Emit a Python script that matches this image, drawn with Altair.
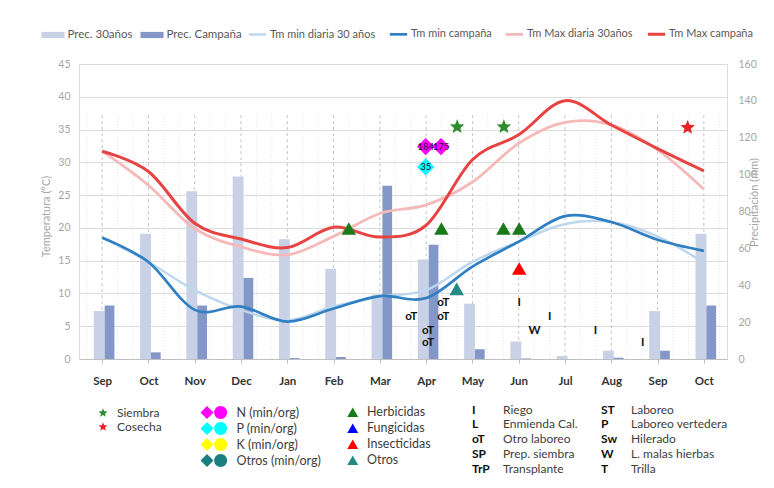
import json
import altair as alt
import pandas as pd

# ---------------- data ----------------
months = ["Sep", "Oct", "Nov", "Dec", "Jan", "Feb", "Mar", "Apr", "May", "Jun", "Jul", "Aug", "Sep", "Oct"]

prec_30 = [26, 68, 91, 99, 65, 49, 35, 54, 30, 9.5, 1.6, 4.5, 26, 68]
prec_camp = [29, 3.6, 29, 44, 0.5, 1.1, 94, 62, 5.3, 0.3, 0, 0.7, 4.5, 29]

tmin_30 = [18.6, 14.8, 10.5, 7.5, 5.9, 8.0, 9.5, 10.5, 14.8, 17.9, 20.6, 20.9, 18.7, 14.7]
tmin_camp = [18.5, 14.8, 7.5, 8.0, 5.7, 7.7, 9.6, 9.3, 14.1, 17.9, 21.8, 20.9, 18.2, 16.5]
tmax_30 = [31.7, 26.5, 19.9, 17.1, 15.9, 18.7, 22.2, 23.5, 27.0, 32.9, 36.1, 35.7, 31.9, 25.9]
tmax_camp = [31.7, 28.6, 20.7, 18.3, 17.0, 20.1, 18.6, 20.4, 30.4, 34.2, 39.4, 35.7, 32.1, 28.7]

bar_series = ["Prec. 30años", "Prec. Campaña"]
line_series = ["Tm min diaria 30 años", "Tm min campaña", "Tm Max diaria 30años", "Tm Max campaña"]

# events (x in month units from first Sep)
star_types = ["Siembra", "Cosecha"]
star_x = [7.67, 8.68, 12.65]
star_t = [35.4, 35.4, 35.3]
star_k = ["Siembra", "Siembra", "Cosecha"]

nut_types = ["N (min/org)", "P (min/org)", "K (min/org)", "Otros (min/org)"]
nut_x = [6.99, 7.32, 6.99]
nut_t = [32.4, 32.4, 29.3]
nut_k = ["N (min/org)", "N (min/org)", "P (min/org)"]
nut_lab = ["184", "175", "35"]

tri_types = ["Herbicidas", "Fungicidas", "Insecticidas", "Otros"]
tri_x = [5.33, 7.33, 8.67, 9.01, 9.01, 7.66]
tri_t = [19.9, 19.9, 19.9, 19.9, 13.8, 10.7]
tri_k = ["Herbicidas", "Herbicidas", "Herbicidas", "Herbicidas", "Insecticidas", "Otros"]

code_lab = ["oT", "oT", "oT", "oT", "oT", "I", "I", "W", "I", "I"]
code_x = [6.68, 7.37, 7.37, 7.04, 7.04, 9.01, 9.67, 9.34, 10.66, 11.68]
code_t = [6.35, 8.5, 6.35, 4.3, 2.4, 8.5, 6.35, 4.3, 4.3, 2.4]

codes1 = ["I", "L", "oT", "SP", "TrP"]
desc1 = ["Riego", "Enmienda Cal.", "Otro laboreo", "Prep. siembra", "Transplante"]
codes2 = ["ST", "P", "Sw", "W", "T"]
desc2 = ["Laboreo", "Laboreo vertedera", "Hilerado", "L. malas hierbas", "Trilla"]

# ---------------- styling ----------------
FONT = "Lato"
AX = "#a6a6a6"
TXT = "#404040"
STAR = ("M0,-1L0.26,-0.36L0.95,-0.31L0.42,0.14L0.59,0.81L0,0.44L-0.59,0.81"
        "L-0.42,0.14L-0.95,-0.31L-0.26,-0.36Z")
PAIR = "M-1,0L0,-1L1,0L0,1Z M3.1,0A1,1,0,1,1,1.1,0A1,1,0,1,1,3.1,0Z"
RECT = "M-1,-0.27H1V0.27H-1Z"

n = len(months)
idx = list(range(n))

xscale = alt.Scale(domain=[-0.5, n - 0.5], nice=False, zero=False)
tscale = alt.Scale(domain=[0, 45], nice=False, zero=False)
pscale = alt.Scale(domain=[0, 160], nice=False, zero=False)

xaxis = alt.Axis(values=idx, labelExpr=f"{json.dumps(months)}[datum.value]", title=None,
                 grid=False, domain=True, domainColor="#bfbfbf", ticks=True, tickColor="#bfbfbf",
                 tickSize=4, labelFont=FONT, labelFontWeight="bold", labelFontSize=11.5,
                 labelColor="#333333", labelPadding=12)

taxis = alt.Axis(orient="left", values=list(range(0, 46, 5)), grid=True, gridColor="#dcdcdc",
                 domain=False, ticks=False, labelColor=AX, labelFont=FONT, labelFontSize=10.5,
                 labelPadding=9, title="Temperatura (°C)", titleColor=AX, titleFont=FONT,
                 titleFontWeight="normal", titleFontSize=11, titleX=-28, titleY=152, titleAngle=270)

paxis = alt.Axis(orient="right", values=list(range(0, 161, 20)), grid=False, domain=False,
                 ticks=False, labelColor=AX, labelFont=FONT, labelFontSize=10.5, labelPadding=11,
                 title="Precipitación (mm)", titleColor=AX, titleFont=FONT, titleFontWeight="normal",
                 titleFontSize=11, titleX=32, titleY=138, titleAngle=270)


def leg(x, y, **kw):
    base = dict(orient="none", legendX=x, legendY=y, title=None, padding=0, labelFont=FONT,
                labelFontSize=12, labelColor=TXT, labelLimit=300)
    base.update(kw)
    return alt.Legend(**base)


# ---------------- grid rules ----------------
major_df = pd.DataFrame({"x": idx})
minor_df = pd.DataFrame({"x": [i + d for i in [-1] + idx for d in (1 / 3, 2 / 3)
                               if -0.5 < i + d < n - 0.5]})

major = alt.Chart(major_df).mark_rule(color="#c4c4c4", strokeDash=[3, 3], strokeWidth=1).encode(
    x=alt.X("x:Q", scale=xscale, axis=xaxis),
    y=alt.YDatum(37.2, scale=tscale, axis=None),
    y2=alt.Y2Datum(0),
)
minor = alt.Chart(minor_df).mark_rule(color="#e2e2e2", strokeDash=[1, 2], strokeWidth=1).encode(
    x=alt.X("x:Q", scale=xscale),
    y=alt.YDatum(37.2, scale=tscale, axis=None),
    y2=alt.Y2Datum(0),
)

# ---------------- bars ----------------
bar_rows = []
for i in idx:
    bar_rows.append({"x": i - 0.18, "x2": i + 0.055, "p": prec_30[i], "serie": bar_series[0]})
    bar_rows.append({"x": i + 0.055, "x2": i + 0.265, "p": prec_camp[i], "serie": bar_series[1]})
bars = alt.Chart(pd.DataFrame(bar_rows)).mark_rect().encode(
    x=alt.X("x:Q", scale=xscale),
    x2="x2:Q",
    y=alt.Y("p:Q", scale=pscale, axis=paxis),
    y2=alt.Y2Datum(0),
    color=alt.Color("serie:N", scale=alt.Scale(domain=bar_series, range=["#c8d1e6", "#8497c9"]),
                    legend=leg(-37.5, -40.5, direction="horizontal", columns=2, symbolType=RECT,
                               symbolSize=529, symbolStrokeWidth=0, labelOffset=3,
                               columnPadding=8, labelColor="#595959", labelFontSize=11.5)),
)

# ---------------- lines ----------------
line_rows = []
for s, vals in zip(line_series, [tmin_30, tmin_camp, tmax_30, tmax_camp]):
    for i in idx:
        line_rows.append({"x": i, "t": vals[i], "serie": s})
lines = alt.Chart(pd.DataFrame(line_rows)).mark_line(interpolate="cardinal").encode(
    x=alt.X("x:Q", scale=xscale),
    y=alt.Y("t:Q", scale=tscale, axis=taxis),
    color=alt.Color("serie:N", scale=alt.Scale(domain=line_series,
                                               range=["#bdd7ee", "#2f7fc2", "#f5b9b9", "#e84343"]),
                    legend=leg(168, -40.5, direction="horizontal", columns=4, symbolType="stroke",
                               symbolSize=300, symbolStrokeWidth=3, labelOffset=2,
                               columnPadding=8, labelColor="#595959", labelFontSize=11)),
    strokeWidth=alt.StrokeWidth("serie:N", scale=alt.Scale(domain=line_series, range=[2.5, 3, 2.5, 3]),
                                legend=None),
)

# ---------------- markers ----------------
stars = alt.Chart(pd.DataFrame({"x": star_x, "t": star_t, "k": star_k})).mark_point(
    shape=STAR, filled=True, size=230, opacity=1).encode(
    x=alt.X("x:Q", scale=xscale),
    y=alt.Y("t:Q", scale=tscale, axis=None),
    color=alt.Color("k:N", scale=alt.Scale(domain=star_types, range=["#2e8b2e", "#e8242b"]),
                    legend=leg(18, 343, direction="vertical", symbolType=STAR, symbolSize=90,
                               labelOffset=8, rowPadding=2)),
)

diam = alt.Chart(pd.DataFrame({"x": nut_x, "t": nut_t, "k": nut_k})).mark_point(
    shape="diamond", filled=True, size=300, opacity=1).encode(
    x=alt.X("x:Q", scale=xscale),
    y=alt.Y("t:Q", scale=tscale, axis=None),
    color=alt.Color("k:N", scale=alt.Scale(domain=nut_types,
                                           range=["#ff00ff", "#00ffff", "#ffff00", "#1a7f7f"]),
                    legend=leg(121.5, 342, direction="vertical", symbolType=PAIR, symbolSize=169,
                               symbolStrokeWidth=0, labelOffset=23, rowPadding=1,
                               labelFontSize=12.5)),
)
diam_lab = alt.Chart(pd.DataFrame({"x": nut_x, "t": nut_t, "lab": nut_lab})).mark_text(
    font=FONT, fontSize=9.5, color="#2a0a2a").encode(
    x=alt.X("x:Q", scale=xscale),
    y=alt.Y("t:Q", scale=tscale, axis=None),
    text="lab:N",
)

tris = alt.Chart(pd.DataFrame({"x": tri_x, "t": tri_t, "k": tri_k})).mark_point(
    shape="triangle-up", filled=True, size=210, opacity=1).encode(
    x=alt.X("x:Q", scale=xscale),
    y=alt.Y("t:Q", scale=tscale, axis=None),
    color=alt.Color("k:N", scale=alt.Scale(domain=tri_types,
                                           range=["#1a7a1a", "#0000ff", "#ff0000", "#238b82"]),
                    legend=leg(267.5, 342, direction="vertical", symbolType="triangle-up",
                               symbolSize=120, symbolStrokeWidth=0, labelOffset=8, rowPadding=3,
                               labelFontSize=12.5)),
)

codes = alt.Chart(pd.DataFrame({"x": code_x, "t": code_t, "c": code_lab})).mark_text(
    font=FONT, fontSize=11.5, fontWeight="bold", color="#111111").encode(
    x=alt.X("x:Q", scale=xscale),
    y=alt.Y("t:Q", scale=tscale, axis=None),
    text="c:N",
)


def text_legend(values, x, bold):
    return alt.Chart(pd.DataFrame({"k": values})).mark_point(opacity=0, size=1).encode(
        color=alt.Color("k:N", scale=alt.Scale(domain=values, range=["#000000"] * len(values)),
                        legend=leg(x, 339.5, direction="vertical", symbolSize=1, symbolOpacity=0,
                                   labelOffset=0, rowPadding=2.8,
                                   labelFontWeight="bold" if bold else "normal",
                                   labelColor="#111111" if bold else TXT,
                                   labelFontSize=12)),
    )


leg_c1 = text_legend(codes1, 381, True)
leg_d1 = text_legend(desc1, 412, False)
leg_c2 = text_legend(codes2, 510, True)
leg_d2 = text_legend(desc2, 540, False)

chart = alt.layer(
    minor, major, bars, lines, stars, diam, diam_lab, tris, codes,
    leg_c1, leg_d1, leg_c2, leg_d2,
).resolve_scale(
    y="independent", color="independent", strokeWidth="independent"
).properties(
    width=648, height=295,
    autosize=alt.AutoSizeParams(type="none"),
    padding={"left": 71, "top": 56, "right": 39, "bottom": 121},
).configure_view(stroke=None).configure(font=FONT)

chart.save("out.html", embed_options={"renderer": "svg", "actions": False})
